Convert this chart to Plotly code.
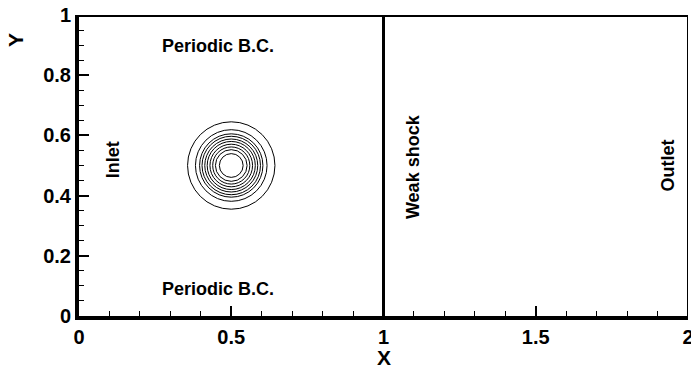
import plotly.graph_objects as go

# Domain and vortex contour data
x_range = [0, 2]
y_range = [0, 1]
x_ticks = [0, 0.5, 1, 1.5, 2]
x_tick_labels = ["0", "0.5", "1", "1.5", "2"]
y_ticks = [0, 0.2, 0.4, 0.6, 0.8, 1]
y_tick_labels = ["0", "0.2", "0.4", "0.6", "0.8", "1"]

vortex_center = (0.5, 0.5)
contour_radii = [0.1435, 0.1176, 0.104, 0.096, 0.087, 0.079, 0.070, 0.061, 0.052, 0.039]

shock_x = 1.0

labels = ["Periodic B.C.", "Periodic B.C.", "Inlet", "Weak shock", "Outlet"]
label_x = [0.456, 0.456, 0.112, 1.097, 1.934]
label_y = [0.897, 0.09, 0.518, 0.495, 0.5]
label_angle = [0, 0, -90, -90, -90]

FONT = "Liberation Sans"

# plot area size in pixels (used for positioning titles and circular contours)
ML, MR, MT, MB = 79, 3, 15, 54
PW, PH = 691 - ML - MR, 370 - MT - MB

fig = go.Figure()
fig.add_trace(go.Scatter(x=[], y=[], showlegend=False))

shapes = []
cx, cy = vortex_center
aspect = (PW / 2) / PH
for r in contour_radii:
    shapes.append(dict(type="circle", xref="x", yref="y",
                       x0=cx - r, x1=cx + r, y0=cy - r * aspect, y1=cy + r * aspect,
                       line=dict(color="black", width=1)))

# shock line
shapes.append(dict(type="line", xref="x", yref="y", x0=shock_x, x1=shock_x,
                   y0=y_range[0], y1=y_range[1], line=dict(color="black", width=3)))
# right boundary
shapes.append(dict(type="line", xref="x", yref="y", x0=x_range[1], x1=x_range[1],
                   y0=y_range[0], y1=y_range[1], line=dict(color="black", width=2)))
# top boundary
shapes.append(dict(type="line", xref="x", yref="y", x0=x_range[0], x1=x_range[1],
                   y0=y_range[1], y1=y_range[1], line=dict(color="black", width=4)))

annotations = []
for t, ax_, ay_, ang in zip(labels, label_x, label_y, label_angle):
    annotations.append(dict(x=ax_, y=ay_, xref="x", yref="y", text=t, textangle=ang,
                            showarrow=False,
                            font=dict(family=FONT, size=18, color="black", weight="bold")))

annotations.append(dict(x=1.0, y=-41 / PH, xref="x", yref="paper", text="X", showarrow=False,
                        xanchor="center", yanchor="middle",
                        font=dict(family=FONT, size=21, color="black", weight="bold")))
annotations.append(dict(x=(15 - ML) / PW, y=(316 - 40) / PH, xref="paper", yref="paper",
                        text="Y", showarrow=False, textangle=-90,
                        xanchor="center", yanchor="middle",
                        font=dict(family=FONT, size=21, color="black", weight="bold")))

axis_font = dict(family=FONT, size=20, color="black", weight="bold")

fig.update_layout(
    width=691, height=370,
    margin=dict(l=ML, r=MR, t=MT, b=MB, autoexpand=False),
    paper_bgcolor="white", plot_bgcolor="white",
    shapes=shapes, annotations=annotations,
    xaxis=dict(range=x_range, tickvals=x_ticks, ticktext=x_tick_labels, automargin=False,
               showgrid=False, zeroline=False, showline=True, linecolor="black", linewidth=4,
               ticks="inside", ticklen=10, tickwidth=2, tickcolor="black",
               tickfont=axis_font, ticklabeloverflow="allow", ticklabelstandoff=0,
               minor=dict(dtick=0.1, ticks="inside", ticklen=5, tickwidth=1, tickcolor="black",
                          showgrid=False)),
    yaxis=dict(range=y_range, tickvals=y_ticks, ticktext=y_tick_labels, automargin=False,
               showgrid=False, zeroline=False, showline=True, linecolor="black", linewidth=4,
               ticks="inside", ticklen=10, tickwidth=2, tickcolor="black",
               tickfont=axis_font,
               minor=dict(dtick=0.05, ticks="inside", ticklen=5, tickwidth=1, tickcolor="black",
                          showgrid=False)),
)

fig.write_html("out.html")
